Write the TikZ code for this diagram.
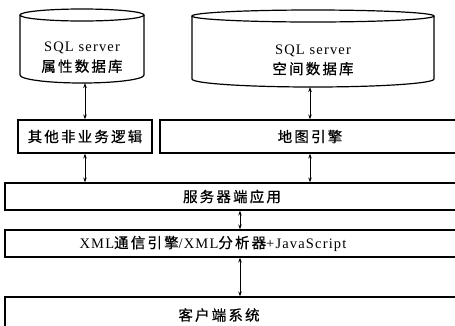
\documentclass[tikz,border=0pt]{standalone}
\usepackage{fontspec}
\setmainfont{Liberation Serif}[LetterSpace=8]
\newfontfamily\cjk{Noto Sans CJK SC}[LetterSpace=15,FakeBold=0.6]
\usetikzlibrary{arrows.meta}
\tikzset{
  dbline/.style={draw=black,line width=1.2pt},
  layer/.style={draw=black,line width=1.2pt,inner sep=0pt},
  lbl/.style={font=\fontsize{14.5}{20}\selectfont,align=center,inner sep=0pt},
  link/.style={{Stealth[length=5pt,width=3.5pt]}-{Stealth[length=5pt,width=3.5pt]},line width=0.9pt},
}
\begin{document}
\begin{tikzpicture}[x=1pt,y=-1pt]
  \clip (0,0) rectangle (455,325);
  % databases
  \draw[dbline] (20,15) -- (20,75) arc[start angle=180,end angle=0,x radius=62,y radius=8] -- (144,15);
  \draw[dbline] (82,15) ellipse[x radius=62,y radius=6];
  \draw[dbline] (192,16) -- (192,79) arc[start angle=180,end angle=0,x radius=121,y radius=8] -- (434,16);
  \draw[dbline] (313,16) ellipse[x radius=121,y radius=6];
  \coordinate (attrdb) at (82,83);
  \coordinate (spatialdb) at (313,87);
  \node[lbl] (attrtxt) at (82,57.5) {SQL server\\{\cjk 属性数据库}};
  \node[lbl] (spatialtxt) at (313,60) {SQL server\\{\cjk 空间数据库}};
  % layers
  \node[layer,lbl,minimum width=134pt,minimum height=33pt] (other) at (85,136.5) {\cjk 其他非业务逻辑};
  \node[layer,lbl,minimum width=300pt,minimum height=33pt] (map) at (310,136.5) {\cjk 地图引擎};
  \node[layer,lbl,minimum width=454pt,minimum height=27pt] (server) at (232,196.5) {\cjk 服务器端应用};
  \node[layer,minimum width=454pt,minimum height=27pt,
    label={[lbl,xshift=-19pt]center:XML{\cjk 通信引擎}/XML{\cjk 分析器}+JavaScript}] (xml) at (232,243.5) {};
  \node[layer,minimum width=454pt,minimum height=43pt,
    label={[lbl,xshift=-13pt,yshift=3.5pt]center:{\cjk 客户端系统}}] (client) at (232,318.5) {};
  \coordinate (mid) at (240,0);
  % connectors
  \draw[link] (other.north |- attrdb) -- (other.north);
  \draw[link] (map.north |- spatialdb) -- (map.north);
  \draw[link] (other.south) -- (other.south |- server.north);
  \draw[link] (map.south) -- (map.south |- server.north);
  \draw[link] (server.south -| mid) -- (xml.north -| mid);
  \draw[link] (xml.south -| mid) -- (client.north -| mid);
\end{tikzpicture}
\end{document}
